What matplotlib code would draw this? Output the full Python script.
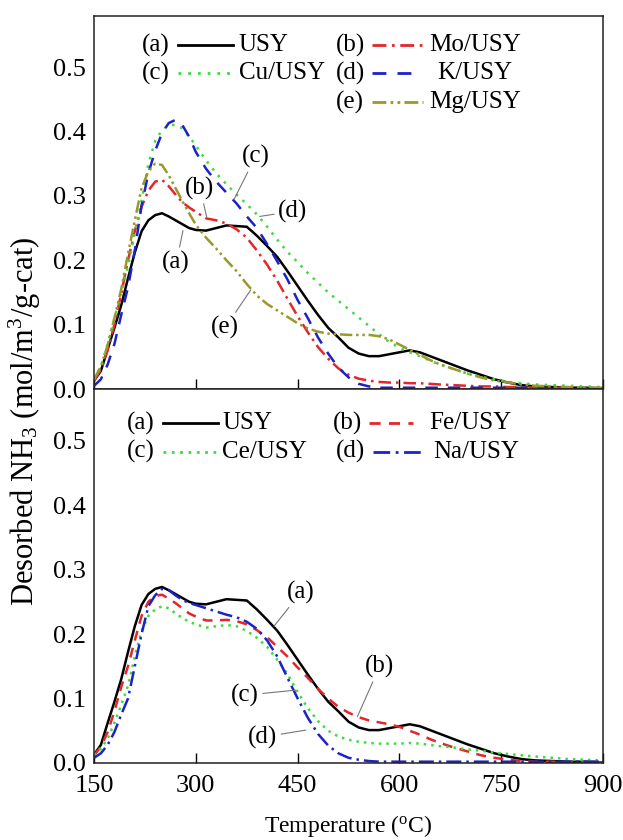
import matplotlib
matplotlib.use('Agg')
import matplotlib.pyplot as plt
from matplotlib.lines import Line2D

plt.rcParams['font.family'] = ['Liberation Serif', 'DejaVu Serif']
plt.rcParams['mathtext.fontset'] = 'custom'
plt.rcParams['mathtext.rm'] = 'Liberation Serif'
plt.rcParams['mathtext.it'] = 'Liberation Serif:italic'

# temperature grid (deg C) shared by all the TPD traces
temp = [150, 160, 170, 180, 190, 200, 210, 220, 230, 240, 250, 260, 270, 280, 290,
        300, 315, 330, 345, 360, 375, 390, 405, 420, 435, 450, 465, 480, 495, 510,
        525, 540, 555, 570, 585, 600, 615, 630, 645, 660, 680, 700, 720, 740, 760,
        780, 800, 825, 850, 875, 900]

usy = [0.013, 0.028, 0.062, 0.095, 0.130, 0.172, 0.212, 0.245, 0.262, 0.270, 0.273, 0.268, 0.262, 0.256, 0.250,
       0.247, 0.246, 0.250, 0.254, 0.253, 0.252, 0.238, 0.222, 0.205, 0.183, 0.160, 0.137, 0.115, 0.095, 0.080,
       0.064, 0.055, 0.051, 0.051, 0.054, 0.057, 0.060, 0.057, 0.051, 0.045, 0.037, 0.029, 0.022, 0.015, 0.010,
       0.006, 0.004, 0.003, 0.002, 0.002, 0.001]

mo_usy = [0.013, 0.030, 0.060, 0.100, 0.148, 0.200, 0.245, 0.283, 0.308, 0.322, 0.325, 0.315, 0.302, 0.290, 0.282,
          0.275, 0.265, 0.262, 0.257, 0.248, 0.235, 0.215, 0.193, 0.168, 0.140, 0.113, 0.088, 0.065, 0.047, 0.032,
          0.022, 0.016, 0.013, 0.011, 0.010, 0.010, 0.009, 0.009, 0.008, 0.007, 0.006, 0.005, 0.004, 0.004, 0.003,
          0.003, 0.002, 0.002, 0.002, 0.001, 0.001]

cu_usy = [0.015, 0.035, 0.070, 0.110, 0.150, 0.190, 0.242, 0.293, 0.350, 0.385, 0.402, 0.410, 0.410, 0.405, 0.392,
          0.378, 0.355, 0.335, 0.318, 0.302, 0.287, 0.271, 0.252, 0.232, 0.213, 0.197, 0.180, 0.165, 0.150, 0.137,
          0.124, 0.111, 0.098, 0.085, 0.073, 0.064, 0.057, 0.051, 0.044, 0.038, 0.031, 0.024, 0.019, 0.015, 0.011,
          0.009, 0.007, 0.006, 0.005, 0.004, 0.003]

k_usy = [0.005, 0.015, 0.038, 0.070, 0.115, 0.158, 0.215, 0.285, 0.335, 0.370, 0.397, 0.413, 0.418, 0.410, 0.392,
         0.368, 0.342, 0.322, 0.305, 0.288, 0.268, 0.250, 0.225, 0.198, 0.170, 0.138, 0.110, 0.080, 0.055, 0.033,
         0.018, 0.008, 0.004, 0.002, 0.002, 0.002, 0.002, 0.002, 0.002, 0.002, 0.002, 0.002, 0.002, 0.002, 0.002,
         0.002, 0.002, 0.001, 0.001, 0.001, 0.001]

mg_usy = [0.015, 0.035, 0.068, 0.110, 0.155, 0.210, 0.262, 0.312, 0.338, 0.350, 0.348, 0.332, 0.312, 0.292, 0.273,
          0.255, 0.235, 0.218, 0.200, 0.183, 0.163, 0.145, 0.132, 0.122, 0.112, 0.102, 0.094, 0.089, 0.086, 0.085,
          0.084, 0.084, 0.084, 0.082, 0.077, 0.069, 0.061, 0.053, 0.045, 0.038, 0.031, 0.024, 0.018, 0.013, 0.010,
          0.007, 0.005, 0.004, 0.003, 0.002, 0.002]

fe_usy = [0.012, 0.025, 0.048, 0.080, 0.118, 0.150, 0.190, 0.228, 0.250, 0.259, 0.261, 0.255, 0.248, 0.240, 0.232,
          0.227, 0.221, 0.221, 0.222, 0.220, 0.215, 0.206, 0.195, 0.180, 0.165, 0.148, 0.132, 0.115, 0.100, 0.087,
          0.078, 0.071, 0.066, 0.063, 0.060, 0.056, 0.050, 0.044, 0.037, 0.031, 0.024, 0.018, 0.012, 0.008, 0.005,
          0.003, 0.002, 0.002, 0.001, 0.001, 0.001]

ce_usy = [0.012, 0.022, 0.038, 0.062, 0.090, 0.120, 0.165, 0.205, 0.228, 0.238, 0.243, 0.240, 0.232, 0.225, 0.219,
          0.215, 0.210, 0.212, 0.214, 0.212, 0.205, 0.194, 0.180, 0.160, 0.138, 0.110, 0.085, 0.065, 0.050, 0.041,
          0.036, 0.033, 0.031, 0.030, 0.030, 0.030, 0.031, 0.030, 0.028, 0.026, 0.024, 0.021, 0.019, 0.016, 0.014,
          0.012, 0.010, 0.008, 0.006, 0.005, 0.004]

na_usy = [0.008, 0.015, 0.028, 0.048, 0.075, 0.100, 0.150, 0.200, 0.243, 0.260, 0.270, 0.268, 0.260, 0.253, 0.248,
          0.245, 0.240, 0.235, 0.230, 0.226, 0.219, 0.208, 0.190, 0.165, 0.132, 0.100, 0.070, 0.045, 0.027, 0.015,
          0.008, 0.005, 0.003, 0.002, 0.002, 0.002, 0.002, 0.002, 0.002, 0.002, 0.002, 0.002, 0.002, 0.002, 0.002,
          0.002, 0.002, 0.002, 0.002, 0.002, 0.002]

xticks = [150, 300, 450, 600, 750, 900]
yticks = [0.0, 0.1, 0.2, 0.3, 0.4, 0.5]

RED = '#e3262b'
GREEN = '#3ddc3d'
BLUE = '#1c22c8'
OLIVE = '#9a982a'

# (tag, label, series, color, linestyle)
top_series = [
    ('(a)', 'USY', usy, 'black', '-'),
    ('(b)', 'Mo/USY', mo_usy, RED, (0, (5, 2, 1, 2))),
    ('(c)', 'Cu/USY', cu_usy, GREEN, (0, (1, 2.5))),
    ('(d)', 'K/USY', k_usy, BLUE, (0, (5, 4))),
    ('(e)', 'Mg/USY', mg_usy, OLIVE, (0, (5, 1.5, 1, 1.5, 1, 1.5))),
]
bottom_series = [
    ('(a)', 'USY', usy, 'black', '-'),
    ('(b)', 'Fe/USY', fe_usy, RED, (0, (4, 3))),
    ('(c)', 'Ce/USY', ce_usy, GREEN, (0, (1, 2))),
    ('(d)', 'Na/USY', na_usy, BLUE, (0, (6, 2, 1, 2))),
]

FS = 18        # key and call-out text
TICK_FS = 19

fig = plt.figure(figsize=(6.23, 8.4), dpi=100)
ax_top = fig.add_axes([0.151, 0.5369, 0.817, 0.4446])
ax_bot = fig.add_axes([0.151, 0.0917, 0.817, 0.4452])


def style_axes(ax, show_xlabels):
    ax.set_xlim(150, 900)
    ax.set_ylim(0, 0.58)
    ax.set_xticks(xticks)
    ax.set_yticks(yticks)
    ax.set_yticklabels(['%.1f' % v for v in yticks])
    ax.tick_params(axis='x', direction='in', length=7, width=1, pad=9,
                   labelsize=TICK_FS, labelbottom=show_xlabels)
    ax.tick_params(axis='y', length=0, pad=6, labelsize=TICK_FS)
    for sp in ax.spines.values():
        sp.set_linewidth(1.1)
        sp.set_color('#222222')


def draw_key(ax, rows):
    # rows: (tag, label, color, ls, y, tag_x, line_x0, line_x1, label_x, label_ha)
    for tag, label, color, ls, y, tx, x0, x1, lx, ha in rows:
        ax.text(tx, y, tag, transform=ax.transAxes, ha='center', va='center', fontsize=FS)
        ax.add_line(Line2D([x0, x1], [y, y], transform=ax.transAxes, color=color,
                           linestyle=ls, linewidth=2))
        ax.text(lx, y, label, transform=ax.transAxes, ha=ha, va='center', fontsize=FS)


for tag, label, y, color, ls in top_series:
    ax_top.plot(temp, y, color=color, linestyle=ls, linewidth=1.8)
for tag, label, y, color, ls in bottom_series:
    ax_bot.plot(temp, y, color=color, linestyle=ls, linewidth=1.8)

style_axes(ax_top, False)
style_axes(ax_bot, True)

s = top_series
draw_key(ax_top, [
    (s[0][0], s[0][1], s[0][3], s[0][4], 0.921, 0.122, 0.165, 0.273, 0.284, 'left'),
    (s[1][0], s[1][1], s[1][3], s[1][4], 0.921, 0.503, 0.546, 0.646, 0.748, 'center'),
    (s[2][0], s[2][1], s[2][3], s[2][4], 0.846, 0.122, 0.165, 0.273, 0.284, 'left'),
    (s[3][0], s[3][1], s[3][3], s[3][4], 0.846, 0.503, 0.546, 0.630, 0.748, 'center'),
    (s[4][0], s[4][1], s[4][3], s[4][4], 0.768, 0.503, 0.546, 0.646, 0.748, 'center'),
])
s = bottom_series
draw_key(ax_bot, [
    (s[0][0], s[0][1], s[0][3], s[0][4], 0.909, 0.092, 0.136, 0.244, 0.252, 'left'),
    (s[1][0], s[1][1], s[1][3], s[1][4], 0.909, 0.497, 0.540, 0.627, 0.740, 'center'),
    (s[2][0], s[2][1], s[2][3], s[2][4], 0.832, 0.092, 0.136, 0.244, 0.252, 'left'),
    (s[3][0], s[3][1], s[3][3], s[3][4], 0.832, 0.503, 0.548, 0.650, 0.750, 'center'),
])

lead = dict(arrowstyle='-', color='#777777', lw=0.8, shrinkA=1, shrinkB=0)
# curve call-outs, top panel
for txt, tip, pos in [('(a)', (281, 0.246), (271, 0.196)),
                      ('(b)', (316, 0.267), (306, 0.312)),
                      ('(c)', (356, 0.294), (388, 0.361)),
                      ('(d)', (394, 0.268), (443, 0.276)),
                      ('(e)', (381, 0.154), (343, 0.095))]:
    ax_top.annotate(txt, xy=tip, xytext=pos, ha='center', va='center',
                    fontsize=FS, arrowprops=lead)
# curve call-outs, bottom panel
for txt, tip, pos in [('(a)', (415, 0.212), (455, 0.265)),
                      ('(b)', (538, 0.072), (571, 0.150)),
                      ('(c)', (447, 0.113), (372, 0.105)),
                      ('(d)', (462, 0.051), (398, 0.040))]:
    ax_bot.annotate(txt, xy=tip, xytext=pos, ha='center', va='center',
                    fontsize=FS, arrowprops=lead)

fig.text(0.04, 0.498, r'Desorbed NH$_{3}$ (mol/m$^{3}$/g-cat)', rotation=90,
         ha='center', va='center', fontsize=22)
fig.text(0.5594, 0.0167, r'Temperature ($^{\mathrm{o}}$C)', ha='center', va='center',
         fontsize=17)

fig.savefig('out.png', dpi=100)
